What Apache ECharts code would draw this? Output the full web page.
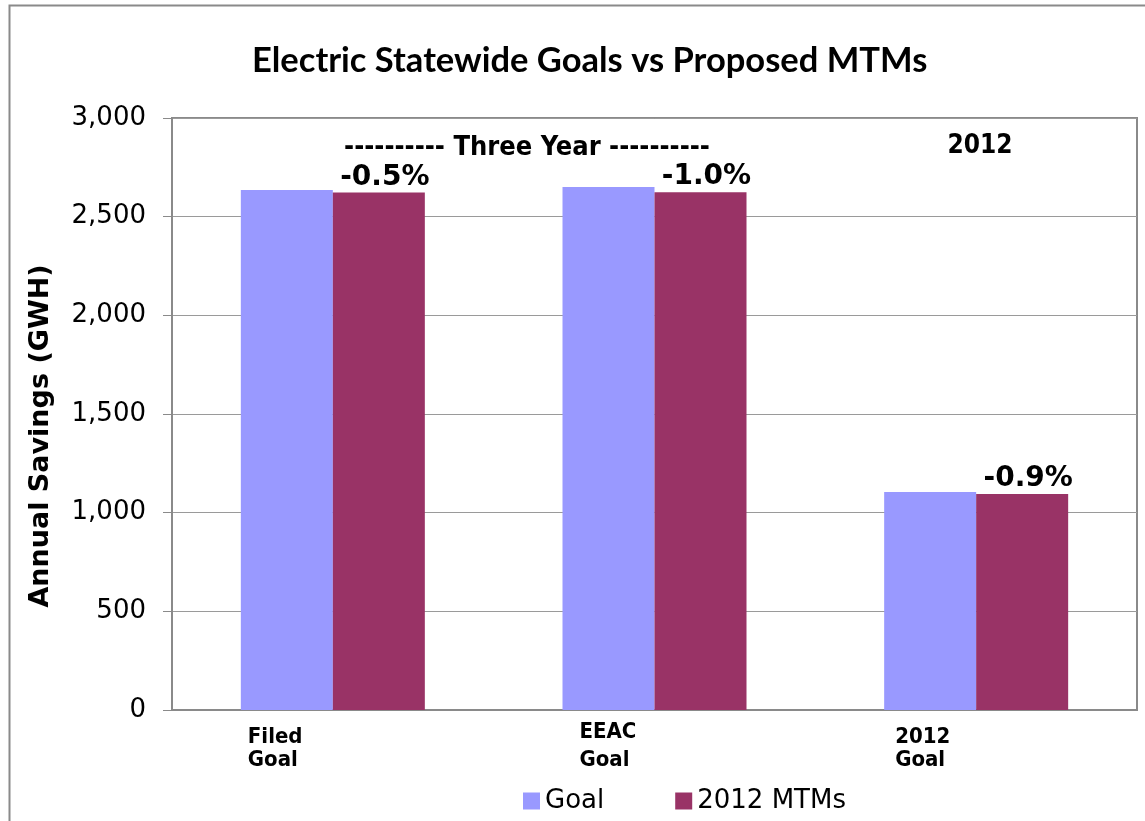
<!DOCTYPE html>
<html>
<head>
<meta charset="utf-8">
<script src="https://cdn.jsdelivr.net/npm/echarts@6/dist/echarts.min.js"></script>
<style>
  html, body { margin: 0; padding: 0; background: #fff; }
  #chart { width: 1145px; height: 821px; }
</style>
</head>
<body>
<div id="chart"></div>
<script>
// Category names (two-line labels on the x axis)
const categories = ['Filed\nGoal', 'EEAC\nGoal', '2012\nGoal'];
// Annual savings in GWH
const goalValues = [2635, 2650, 1105];
const mtmValues = [2622, 2624, 1095];
const seriesNames = ['Goal', '2012 MTMs'];
const yTicks = { min: 0, max: 3000, interval: 500 };

const chart = echarts.init(document.getElementById('chart'));

// Percent change of the MTM figure against its goal
function pctChange(i) {
  const p = (mtmValues[i] - goalValues[i]) / goalValues[i] * 100;
  return p.toFixed(1) + '%';
}

const condensedBold = 'DejaVu Sans Condensed, DejaVu Sans';

// per-category label box width (left-aligned text inside) and top padding
const labelStyles = {
  c0: { width: 170, pad: 11 },
  c1: { width: 150, pad: 0 },
  c2: { width: 162, pad: 11 }
};
const rich = {};
Object.keys(labelStyles).forEach(function (k) {
  const s = labelStyles[k];
  rich[k + 'a'] = {
    width: s.width, align: 'left', padding: [s.pad, 0, 0, 0],
    fontFamily: condensedBold, fontWeight: 'bold', fontSize: 22,
    lineHeight: 28, color: '#000'
  };
  rich[k + 'b'] = {
    width: s.width, align: 'left',
    fontFamily: condensedBold, fontWeight: 'bold', fontSize: 22,
    lineHeight: 28, color: '#000'
  };
});

const option = {
  backgroundColor: '#fff',
  animation: false,
  title: {
    text: 'Electric Statewide Goals vs Proposed MTMs',
    left: 247,
    top: 38,
    textStyle: { fontFamily: 'Lato, Open Sans, sans-serif', fontWeight: 'bold', fontSize: 34.5, color: '#000' }
  },
  legend: {
    data: seriesNames,
    left: 518,
    top: 783,
    itemWidth: 17,
    itemHeight: 17,
    itemGap: 71,
    icon: 'rect',
    textStyle: { fontFamily: 'DejaVu Sans', fontSize: 26, color: '#000' }
  },
  grid: {
    left: 172, right: 8, top: 118, bottom: 111,
    show: true, borderColor: '#8a8a8a', borderWidth: 2, backgroundColor: 'transparent'
  },
  xAxis: {
    type: 'category',
    data: categories,
    axisLine: { show: true, lineStyle: { color: '#8a8a8a', width: 2 } },
    axisTick: { show: false },
    axisLabel: {
      margin: 8,
      interval: 0,
      formatter: function (v, i) {
        const parts = v.split('\n');
        return '{c' + i + 'a|' + parts[0] + '}\n{c' + i + 'b|' + parts[1] + '}';
      },
      rich: rich
    }
  },
  yAxis: {
    type: 'value',
    min: yTicks.min, max: yTicks.max, interval: yTicks.interval,
    name: 'Annual Savings (GWH)',
    nameLocation: 'middle',
    nameGap: 118,
    nameTextStyle: {
      fontFamily: 'DejaVu Sans', fontWeight: 'bold', fontSize: 27, color: '#000',
      padding: [0, 44, 0, 0]
    },
    axisLine: { show: true, lineStyle: { color: '#8a8a8a', width: 2 } },
    axisTick: { show: true, length: 9, lineStyle: { color: '#8a8a8a', width: 1 } },
    axisLabel: {
      margin: 26,
      fontFamily: 'DejaVu Sans', fontSize: 26, color: '#000',
      formatter: function (v) { return v.toLocaleString('en-US'); }
    },
    splitLine: { show: true, lineStyle: { color: '#9a9a9a', width: 1 } }
  },
  series: [
    {
      name: seriesNames[0], type: 'bar', data: goalValues,
      barWidth: 92, barGap: '0%',
      itemStyle: { color: '#9999FF' }
    },
    {
      name: seriesNames[1], type: 'bar', data: mtmValues,
      barWidth: 92,
      itemStyle: { color: '#993366' },
      label: {
        show: true, position: 'top', distance: 1, offset: [6, 0],
        fontFamily: 'DejaVu Sans', fontWeight: 'bold', fontSize: 28, color: '#000',
        formatter: function (p) { return pctChange(p.dataIndex); }
      }
    }
  ],
  graphic: [
    {
      type: 'rect', left: 7, top: 3, silent: true, z: -1,
      shape: { width: 1160, height: 840 },
      style: { fill: 'none', stroke: '#8a8a8a', lineWidth: 2 }
    },
    {
      type: 'text', x: 527, y: 148,
      style: {
        text: '---------- Three Year ----------', align: 'center', verticalAlign: 'middle',
        fontFamily: condensedBold, fontWeight: 'bold', fontSize: 27, fill: '#000'
      }
    },
    {
      type: 'text', x: 980, y: 146,
      style: {
        text: '2012', align: 'center', verticalAlign: 'middle',
        fontFamily: condensedBold, fontWeight: 'bold', fontSize: 26, fill: '#000'
      }
    }
  ]
};

chart.setOption(option);
</script>
</body>
</html>
